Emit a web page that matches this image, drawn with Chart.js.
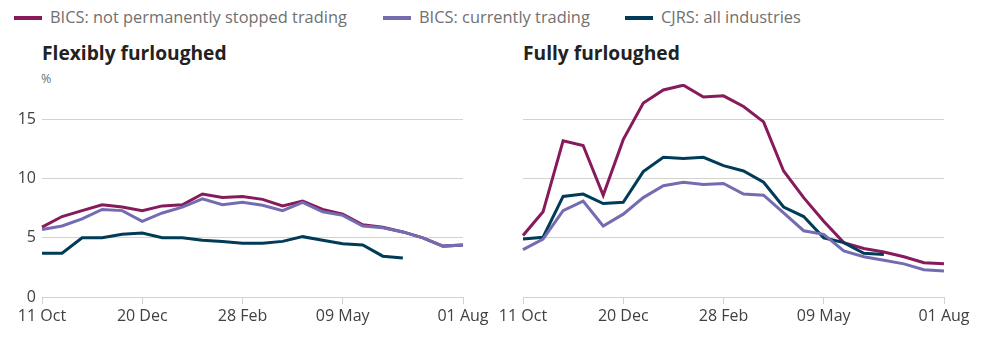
<!DOCTYPE html>
<html>
<head>
<meta charset="utf-8">
<script src="https://cdn.jsdelivr.net/npm/chart.js@4"></script>
<style>
  body { margin: 0; width: 982px; height: 341px; background: #fff; font-family: "Open Sans", sans-serif; position: relative; overflow: hidden; }
  .leg { position: absolute; top: 6px; font-size: 16.4px; color: #707071; white-space: nowrap; line-height: 22px; }
  .leg i { display: inline-block; width: 28px; height: 4px; vertical-align: middle; margin-right: 8px; position: relative; top: -1px; }
  .title { position: absolute; top: 39px; font-size: 19.2px; font-weight: bold; color: #222; }
  .unit { position: absolute; top: 70px; left: 41px; font-size: 12.5px; color: #707071; }
  .box { position: absolute; top: 84px; height: 257px; }
</style>
</head>
<body>
<div class="leg" style="left:14px"><i style="background:#871A5B"></i>BICS: not permanently stopped trading</div>
<div class="leg" style="left:383px"><i style="background:#746CB1"></i>BICS: currently trading</div>
<div class="leg" style="left:625px"><i style="background:#003C57"></i>CJRS: all industries</div>
<div class="title" style="left:42px">Flexibly furloughed</div>
<div class="title" style="left:523px">Fully furloughed</div>
<div class="unit">%</div>
<div class="box" style="left:0;width:492px"><canvas id="flex"></canvas></div>
<div class="box" style="left:491px;width:491px"><canvas id="full"></canvas></div>
<script>
// fortnightly periods
const dates = ['11 Oct','25 Oct','08 Nov','22 Nov','06 Dec','20 Dec','03 Jan','17 Jan','31 Jan','14 Feb',
  '28 Feb','14 Mar','28 Mar','11 Apr','25 Apr','09 May','23 May','06 Jun','20 Jun','04 Jul','18 Jul','01 Aug'];
const shownDates = ['11 Oct','20 Dec','28 Feb','09 May','01 Aug'];

// flexibly furloughed (%)
const flexNotStopped = [5.9,6.8,7.3,7.8,7.6,7.3,7.7,7.8,8.7,8.4,8.5,8.25,7.7,8.1,7.4,7.0,6.1,5.9,5.5,5.0,4.3,4.4];
const flexTrading =    [5.7,6.0,6.6,7.4,7.3,6.4,7.1,7.6,8.3,7.8,8.0,7.75,7.3,8.0,7.2,6.9,6.0,5.85,5.5,5.0,4.3,4.4];
const flexCjrs =       [3.7,3.7,5.0,5.0,5.3,5.4,5.0,5.0,4.8,4.7,4.55,4.55,4.7,5.1,4.8,4.5,4.4,3.45,3.3,null,null,null];

// fully furloughed (%)
const fullNotStopped = [5.2,7.2,13.2,12.8,8.6,13.3,16.4,17.5,17.9,16.9,17.0,16.1,14.8,10.65,8.4,6.4,4.6,4.1,3.8,3.4,2.9,2.8];
const fullTrading =    [4.0,4.9,7.3,8.1,6.0,7.0,8.4,9.4,9.7,9.5,9.6,8.7,8.6,7.1,5.6,5.3,3.9,3.4,3.1,2.8,2.3,2.2];
const fullCjrs =       [4.9,5.05,8.5,8.7,7.9,8.0,10.6,11.8,11.7,11.8,11.1,10.65,9.7,7.6,6.8,5.0,4.6,3.7,3.6,null,null,null];

const maroon = '#871A5B', purple = '#746CB1', teal = '#003C57';
const grid = '#d2d2d2', tickCol = '#414042';

function line(data, color) {
  return { data: data, borderColor: color, backgroundColor: color, borderWidth: 3,
    pointRadius: 0, tension: 0, spanGaps: false };
}

function makeChart(id, a, b, c, showY, pad) {
  return new Chart(document.getElementById(id), {
    type: 'line',
    data: {
      labels: dates,
      // first dataset is drawn on top
      datasets: [line(b, purple), line(c, teal), line(a, maroon)]
    },
    options: {
      responsive: true,
      maintainAspectRatio: false,
      animation: false,
      layout: { padding: { left: pad.left, right: pad.right, top: 0, bottom: 0 } },
      plugins: { legend: { display: false }, tooltip: { enabled: false } },
      scales: {
        x: {
          grid: { drawOnChartArea: false, drawTicks: true, tickLength: 7, color: grid },
          border: { display: true, color: grid },
          ticks: { autoSkip: false, maxRotation: 0, padding: 3, color: tickCol,
            font: { family: 'Open Sans', size: 16 },
            callback: function(v) { return dates[v]; } },
          afterBuildTicks: function(s) {
            s.ticks = s.ticks.filter(t => shownDates.includes(dates[t.value]));
          },
          afterFit: function(s) { s.height = 44; }
        },
        y: {
          min: 0, max: 18,
          grid: { drawTicks: false, color: grid },
          border: { display: false },
          ticks: { display: showY, stepSize: 5, padding: 6, color: tickCol,
            font: { family: 'Open Sans', size: 16 } },
          afterBuildTicks: function(s) {
            s.ticks = s.ticks.filter(t => t.value % 5 === 0);
          },
          afterFit: function(s) {
            s.width = showY ? 42 : 0;
            s.paddingTop = 0;
            s.paddingBottom = 0;
          }
        }
      }
    }
  });
}

makeChart('flex', flexNotStopped, flexTrading, flexCjrs, true, { left: 0, right: 29 });
makeChart('full', fullNotStopped, fullTrading, fullCjrs, false, { left: 32, right: 38 });
</script>
</body>
</html>
